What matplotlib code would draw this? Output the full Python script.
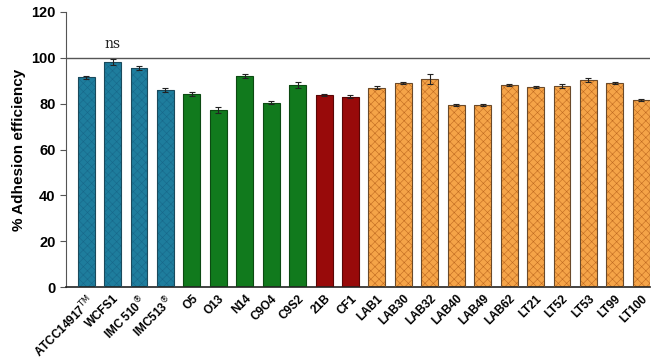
import matplotlib.pyplot as plt

plt.rcParams['font.family'] = ['Liberation Sans', 'DejaVu Sans']
plt.rcParams['hatch.linewidth'] = 0.4

# strain data
strains = ['ATCC14917$^{\\mathrm{TM}}$', 'WCFS1', 'IMC 510$^{\\circledR}$', 'IMC513$^{\\circledR}$',
           'O5', 'O13', 'N14', 'C9O4', 'C9S2', '21B', 'CF1',
           'LAB1', 'LAB30', 'LAB32', 'LAB40', 'LAB49', 'LAB62',
           'LT21', 'LT52', 'LT53', 'LT99', 'LT100']
adhesion = [91.5, 98.2, 95.5, 86.0,
            84.2, 77.3, 92.0, 80.4, 88.2, 83.9, 83.1,
            87.0, 88.9, 90.8, 79.5, 79.5, 88.2,
            87.3, 87.7, 90.3, 89.0, 81.6]
errors = [0.6, 1.2, 0.8, 1.0,
          0.8, 1.3, 1.0, 0.7, 1.2, 0.5, 0.7,
          0.8, 0.5, 2.0, 0.4, 0.5, 0.6,
          0.5, 0.8, 0.8, 0.4, 0.5]
groups = ['blue'] * 4 + ['green'] * 5 + ['red'] * 2 + ['orange'] * 11

face = {'blue': '#1e7d9d', 'green': '#117a1d', 'red': '#980a0a', 'orange': '#f5a448'}
hatchcol = {'blue': '#17688a', 'green': '#117a1d', 'red': '#980a0a', 'orange': '#c06a20'}
hatches = {'blue': 'xxxx', 'green': '', 'red': '', 'orange': 'xxxx'}
edge = {'blue': '#1a4a5c', 'green': '#0c4a12', 'red': '#5a0606', 'orange': '#6b4a2a'}

fig = plt.figure(figsize=(6.64, 3.63), dpi=100)
ax = fig.add_axes([0.0994, 0.209, 0.88, 0.758])

x = list(range(len(strains)))
for i in x:
    g = groups[i]
    ax.bar(i, adhesion[i], width=0.64, color=face[g], edgecolor=hatchcol[g],
           hatch=hatches[g], linewidth=0, zorder=2)
    ax.bar(i, adhesion[i], width=0.64, fill=False, edgecolor=edge[g],
           linewidth=0.8, zorder=3)
ax.errorbar(x, adhesion, yerr=errors, fmt='none', ecolor='#222222',
            elinewidth=0.8, capsize=2, capthick=0.8, zorder=4)

ax.axhline(100, color='#555555', linewidth=1.0, zorder=1)
ax.text(1, 106, 'ns', family='DejaVu Serif', fontsize=10, ha='center', va='center', color='#222222')

ax.set_xlim(-0.76, len(strains) - 1 + 0.34)
ax.set_ylim(0, 120)
ax.set_yticks([0, 20, 40, 60, 80, 100, 120])
ax.set_xticks(x)
ax.set_xticklabels(strains, rotation=45, ha='right', rotation_mode='anchor',
                   fontsize=8.5, fontweight='bold')
for lbl in ax.get_yticklabels():
    lbl.set_fontweight('bold')
    lbl.set_fontsize(10.5)
ax.set_ylabel('% Adhesion efficiency', fontsize=11, fontweight='bold')

ax.spines['top'].set_visible(False)
ax.spines['right'].set_visible(False)
ax.spines['left'].set_color('#555555')
ax.spines['bottom'].set_color('#222222')
ax.spines['bottom'].set_linewidth(1.2)
ax.tick_params(axis='x', length=0, pad=4)
ax.tick_params(axis='y', length=4, color='#555555')

fig.savefig('out.png', dpi=100)
